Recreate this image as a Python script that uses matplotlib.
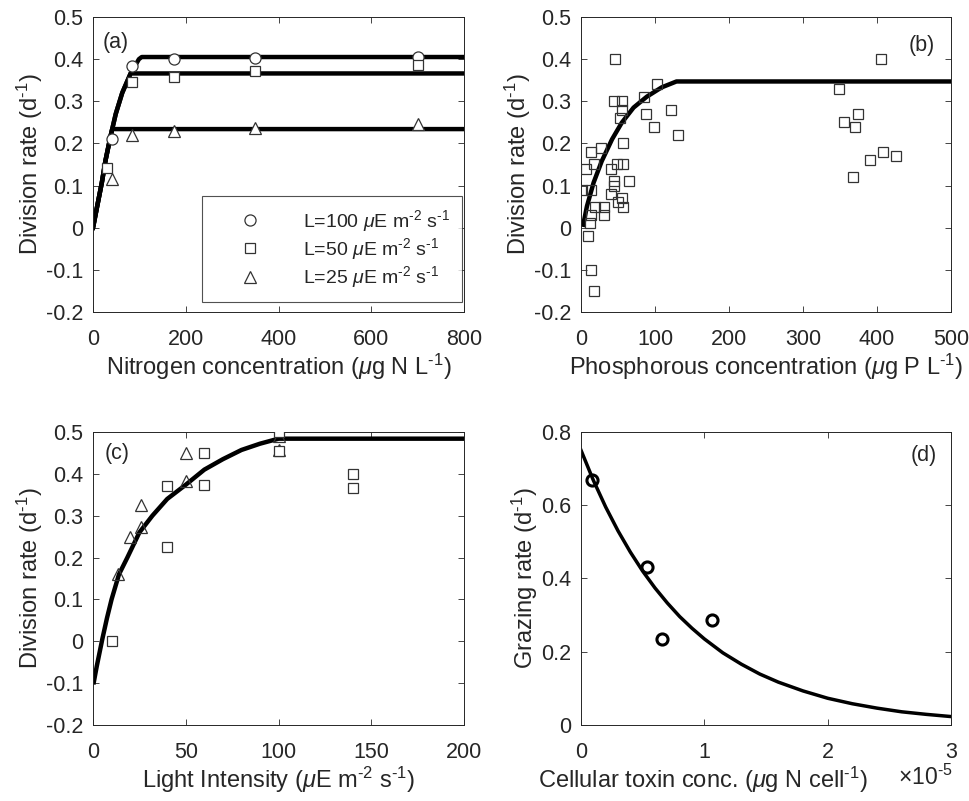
import matplotlib
matplotlib.use("Agg")
import matplotlib.pyplot as plt
import numpy as np

plt.rcParams["font.family"] = ["Liberation Sans", "DejaVu Sans"]
plt.rcParams["mathtext.fontset"] = "custom"
plt.rcParams["mathtext.rm"] = "Liberation Sans"
plt.rcParams["mathtext.it"] = "Liberation Sans:italic"

# ── (a) nitrogen ────────────────────────────────────────────────────────────
n_conc = [40, 84, 175, 350, 700]
mu_l100 = [0.21, 0.383, 0.40, 0.403, 0.405]
n_conc_l50 = [30, 84, 175, 350, 700]
mu_l50 = [0.142, 0.345, 0.358, 0.373, 0.385]
mu_l25 = [0.116, 0.221, 0.230, 0.237, 0.245]
n_curve_x = [0, 9, 19, 27, 38, 49, 63, 81, 99, 105]
n_curve_y = [0, 0.051, 0.107, 0.160, 0.218, 0.270, 0.320, 0.366, 0.400, 0.405]
n_plateaus = [0.405, 0.366, 0.234]

# ── (b) phosphorus ──────────────────────────────────────────────────────────
p_conc = [46, 103, 85, 44, 55, 56, 52, 88, 122, 99, 131, 57, 14, 27, 18, 7,
          41, 48, 57, 65, 44, 40, 50, 56, 57, 1, 13, 19, 31, 31, 14, 12, 10,
          14, 18, 45,
          349, 356, 374, 370, 368, 391, 408, 426, 406]
p_mu = [0.40, 0.34, 0.31, 0.30, 0.30, 0.28, 0.26, 0.27, 0.28, 0.24, 0.22, 0.20,
        0.18, 0.19, 0.15, 0.14, 0.14, 0.15, 0.15, 0.11, 0.11, 0.08, 0.06, 0.07,
        0.05, 0.09, 0.09, 0.05, 0.05, 0.03, 0.03, 0.01, -0.02, -0.10, -0.15,
        0.10,
        0.33, 0.25, 0.27, 0.24, 0.12, 0.16, 0.18, 0.17, 0.40]
p_curve_x = [3, 8, 17, 28, 42, 55, 71, 89, 109, 129, 500]
p_curve_y = [0.007, 0.051, 0.107, 0.158, 0.21, 0.249, 0.285, 0.311, 0.333, 0.347, 0.347]

# ── (c) light ───────────────────────────────────────────────────────────────
light_sq = [10, 40, 40, 60, 60, 100, 100, 140, 140]
mu_sq = [0.0, 0.371, 0.226, 0.449, 0.374, 0.50, 0.454, 0.40, 0.366]
light_tri = [13.5, 20, 26, 26, 50, 50, 100, 100]
mu_tri = [0.161, 0.249, 0.273, 0.326, 0.45, 0.382, 0.49, 0.458]
light_curve_x = [0.4, 2, 5, 7.5, 10, 14, 18.5, 25, 32, 40, 50, 60, 70, 80, 90, 100, 200]
light_curve_y = [-0.098, -0.06, 0.005, 0.055, 0.10, 0.16, 0.20, 0.26, 0.30, 0.34,
                 0.374, 0.41, 0.435, 0.457, 0.472, 0.484, 0.484]

# ── (d) grazing vs toxin (x in units of 1e-5) ───────────────────────────────
toxin = [0.085, 0.535, 0.657, 1.065]
grazing = [0.67, 0.432, 0.234, 0.287]
toxin_curve_x = [0, 0.1, 0.2, 0.3, 0.4, 0.5, 0.6, 0.7, 0.8, 0.9, 1.0, 1.15, 1.3,
                 1.45, 1.6, 1.8, 2.0, 2.2, 2.4, 2.6, 2.8, 3.0]
toxin_curve_y = [0.75, 0.668, 0.595, 0.53, 0.472, 0.42, 0.374, 0.333, 0.296,
                 0.264, 0.235, 0.197, 0.166, 0.139, 0.117, 0.093, 0.073, 0.058,
                 0.046, 0.036, 0.029, 0.023]

TXT = "#262626"
EDGE = "#333333"
CURVE_LW = 3.2
FS_TICK = 15.5
FS_LABEL = 17
SUP = r"$^{\text{-1}}$"
SUP2 = r"$^{\text{-2}}$"


def style_ax(ax, xlim, ylim, xticks, yticks, xlabel, ylabel, yfmt, xlabel_x=0.5):
    ax.set_xlim(*xlim)
    ax.set_ylim(*ylim)
    ax.set_xticks(xticks)
    ax.set_yticks(yticks)
    ax.set_yticklabels([yfmt(v) for v in yticks])
    ax.set_xticklabels([f"{v:g}" for v in xticks])
    ax.tick_params(direction="in", top=True, right=True, length=4, width=0.6,
                   colors=TXT, labelsize=FS_TICK)
    ax.tick_params(axis="x", pad=12)
    ax.tick_params(axis="y", pad=7)
    for s in ax.spines.values():
        s.set_linewidth(0.7)
        s.set_color(TXT)
    ax.set_xlabel(xlabel, fontsize=FS_LABEL, color=TXT, labelpad=1.5, x=xlabel_x)
    ax.set_ylabel(ylabel, fontsize=FS_LABEL, color=TXT, labelpad=0.5)


def fmt1(v):
    v = round(v, 1)
    return "0" if v == 0 else f"{v:g}"


fig = plt.figure(figsize=(9.7, 8.01), dpi=100)
ax_a = fig.add_axes([0.0959, 0.6105, 0.3825, 0.3683])
ax_b = fig.add_axes([0.599, 0.6105, 0.3814, 0.3683])
ax_c = fig.add_axes([0.0959, 0.0949, 0.3825, 0.3658])
ax_d = fig.add_axes([0.599, 0.0949, 0.3814, 0.3658])

yt = np.round(np.arange(-0.2, 0.51, 0.1), 1)
mk = dict(linestyle="none", markerfacecolor="white", markeredgecolor=EDGE,
          markeredgewidth=0.9)
mk_open = dict(linestyle="none", markerfacecolor="none", markeredgecolor=EDGE,
               markeredgewidth=0.9)
div_label = "Division rate (d" + SUP + ")"

# (a)
for level in n_plateaus:
    xs = [x for x, y in zip(n_curve_x, n_curve_y) if y < level]
    ys = [y for y in n_curve_y if y < level]
    xk = np.interp(level, n_curve_y, n_curve_x)
    ax_a.plot(xs + [xk, 800], ys + [level, level], color="black", lw=CURVE_LW,
              solid_joinstyle="round", zorder=2)
ax_a.plot(n_conc, mu_l100, marker="o", markersize=8, zorder=3, **mk,
          label=r"L=100 $\mu$E m" + SUP2 + " s" + SUP)
ax_a.plot(n_conc_l50, mu_l50, marker="s", markersize=6.5, zorder=3, **mk,
          label=r"L=50 $\mu$E m" + SUP2 + " s" + SUP)
ax_a.plot(n_conc, mu_l25, marker="^", markersize=9, zorder=3, **mk,
          label=r"L=25 $\mu$E m" + SUP2 + " s" + SUP)
style_ax(ax_a, (0, 800), (-0.2, 0.5), [0, 200, 400, 600, 800], yt,
         r"Nitrogen concentration ($\mu$g N L" + SUP + ")", div_label, fmt1)
leg = ax_a.legend(loc="lower right", bbox_to_anchor=(0.995, 0.034), fontsize=14,
                  frameon=True, fancybox=False, edgecolor=TXT, handlelength=3.75,
                  handletextpad=0.85, borderpad=0.6, labelspacing=0.12,
                  borderaxespad=0)
leg.get_frame().set_linewidth(0.8)
for t in leg.get_texts():
    t.set_color(TXT)
ax_a.text(0.027, 0.912, "(a)", transform=ax_a.transAxes, fontsize=FS_TICK,
          color=TXT, va="center")

# (b)
ax_b.plot(p_curve_x, p_curve_y, color="black", lw=CURVE_LW, zorder=2)
ax_b.plot(p_conc, p_mu, marker="s", markersize=7.5, zorder=3, **mk_open)
style_ax(ax_b, (0, 500), (-0.2, 0.5), [0, 100, 200, 300, 400, 500], yt,
         r"Phosphorous concentration ($\mu$g P L" + SUP + ")", div_label, fmt1)
ax_b.text(0.957, 0.905, "(b)", transform=ax_b.transAxes, fontsize=FS_TICK,
          color=TXT, va="center", ha="right")

# (c)
ax_c.plot(light_curve_x, light_curve_y, color="black", lw=CURVE_LW, zorder=2)
ax_c.plot(light_tri, mu_tri, marker="^", markersize=9, zorder=3, **mk_open)
ax_c.plot(light_sq, mu_sq, marker="s", markersize=7.5, zorder=4, **mk)
style_ax(ax_c, (0, 200), (-0.2, 0.5), [0, 50, 100, 150, 200], yt,
         r"Light Intensity ($\mu$E m" + SUP2 + " s" + SUP + ")", div_label, fmt1)
ax_c.text(0.032, 0.928, "(c)", transform=ax_c.transAxes, fontsize=FS_TICK,
          color=TXT, va="center")

# (d)
ax_d.plot(toxin_curve_x, toxin_curve_y, color="black", lw=2.5, zorder=2,
          solid_joinstyle="round")
ax_d.plot(toxin, grazing, marker="o", markersize=8, zorder=3, linestyle="none",
          markerfacecolor="none", markeredgecolor="black", markeredgewidth=2.2)
style_ax(ax_d, (0, 3), (0, 0.8), [0, 1, 2, 3], [0, 0.2, 0.4, 0.6, 0.8],
         r"Cellular toxin conc. ($\mu$g N cell" + SUP + ")", "Grazing rate (d" + SUP + ")",
         lambda v: "0" if v == 0 else f"{v:.1f}", xlabel_x=0.33)
ax_d.text(0.962, 0.92, "(d)", transform=ax_d.transAxes, fontsize=FS_TICK,
          color=TXT, va="center", ha="right")
ax_d.text(1.003, -0.178, r"$\times$10" + r"$^{\text{-5}}$", transform=ax_d.transAxes,
          fontsize=16.5, color=TXT, ha="right", va="center")

fig.savefig("out.png", dpi=100)
